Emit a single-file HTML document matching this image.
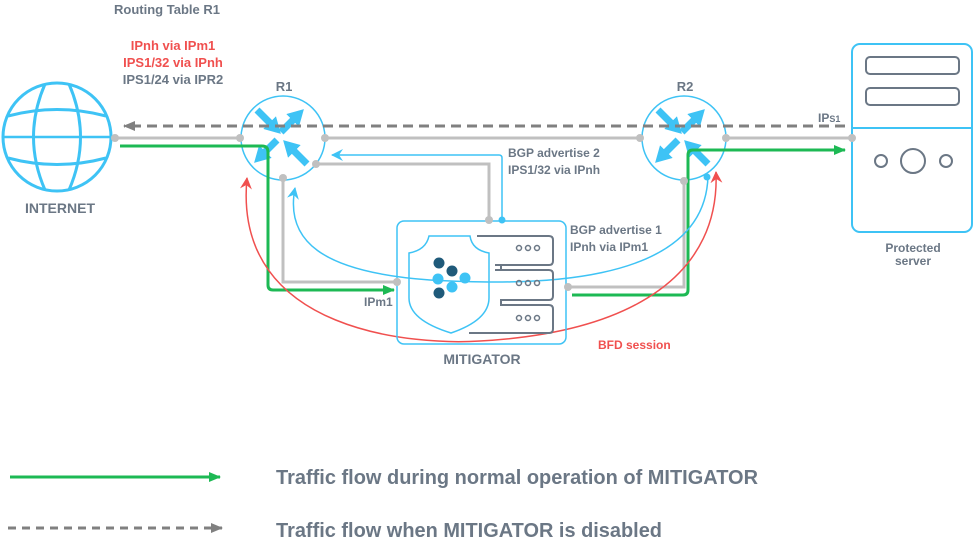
<!DOCTYPE html>
<html><head><meta charset="utf-8"><style>
html,body{margin:0;padding:0;background:#fff}
svg{display:block}
text{font-family:"Liberation Sans",sans-serif;font-weight:bold}
</style></head><body>
<svg width="974" height="550" viewBox="0 0 974 550" xmlns="http://www.w3.org/2000/svg">
<defs>
<marker id="ag" markerWidth="12" markerHeight="10" refX="11" refY="5" orient="auto" markerUnits="userSpaceOnUse"><path d="M0,0 L12,5 L0,10z" fill="#1db954"/></marker>
<marker id="agr" markerWidth="12" markerHeight="10" refX="11" refY="5" orient="auto" markerUnits="userSpaceOnUse"><path d="M0,0 L12,5 L0,10z" fill="#808080"/></marker>
<marker id="ab" markerWidth="12" markerHeight="12" refX="11" refY="6" orient="auto-start-reverse" markerUnits="userSpaceOnUse"><path d="M0,0 L12,6 L0,12 L4,6z" fill="#3ec3f5"/></marker>
<marker id="ar" markerWidth="12" markerHeight="12" refX="11" refY="6" orient="auto-start-reverse" markerUnits="userSpaceOnUse"><path d="M0,0 L12,6 L0,12 L4,6z" fill="#f0504f"/></marker>
<marker id="ah" markerWidth="16" markerHeight="18" refX="2" refY="9" orient="auto" markerUnits="userSpaceOnUse"><path d="M0,0 L16,9 L0,18z" fill="#3ec3f5"/></marker>
<g id="arr" stroke="#3ec3f5" stroke-width="7" fill="none">
<path d="M-26,-28 L-12,-14" marker-end="url(#ah)"/>
<path d="M-2,-6 L11,-19" marker-end="url(#ah)"/>
<path d="M-6,2 L-19,15" marker-end="url(#ah)"/>
<path d="M24,26 L10,12" marker-end="url(#ah)"/>
</g>
</defs>

<g fill="none" stroke="#3ec3f5" stroke-width="3">
<circle cx="57" cy="137" r="54"/>
<path d="M45,84 Q22,137 45,190"/><path d="M69,84 Q92,137 69,190"/>
<path d="M8,116 Q57,103 106,116"/><path d="M8,158 Q57,171 106,158"/>
<path d="M4,137 H110" stroke-width="2.5"/>
</g>
<text x="60" y="213" font-size="14" fill="#6b7785" text-anchor="middle">INTERNET</text>

<text x="167" y="14" font-size="13" fill="#6b7785" text-anchor="middle">Routing Table R1</text>
<text x="173" y="50" font-size="13" fill="#f0504f" text-anchor="middle">IPnh via IPm1</text>
<text x="173" y="67" font-size="13" fill="#f0504f" text-anchor="middle">IPS1/32 via IPnh</text>
<text x="173" y="84" font-size="13" fill="#6b7785" text-anchor="middle">IPS1/24 via IPR2</text>

<g fill="none" stroke="#c0c0c0" stroke-width="3">
<path d="M115,138 H240"/><path d="M325,138 H640"/><path d="M726,138 H852"/>
<path d="M283,178 V282 H397"/>
<path d="M316,164 H489 V220"/>
<path d="M568,287 H684 V178"/>
</g>

<g fill="#fff" stroke="#3ec3f5" stroke-width="1.5">
<circle cx="283" cy="138" r="42"/><circle cx="684" cy="138" r="42"/>
</g>
<text x="284" y="91" font-size="13" fill="#6b7785" text-anchor="middle">R1</text>
<text x="685" y="91" font-size="13" fill="#6b7785" text-anchor="middle">R2</text>
<use href="#arr" transform="translate(283,138)"/>
<use href="#arr" transform="translate(684,138)"/>

<path d="M845,126 H124" stroke="#808080" stroke-width="3" stroke-dasharray="10,6" fill="none" marker-end="url(#agr)"/>
<text x="818" y="122" font-size="12" fill="#6b7785">IP<tspan font-size="9">S1</tspan></text>

<g fill="none" stroke="#1db954" stroke-width="3">
<path d="M120,146 H262 Q268,146 268,152 V285 Q268,290 273,290 H394" marker-end="url(#ag)"/>
<path d="M572,295 H683 Q688,295 688,290 V155 Q688,150 693,150 H845" marker-end="url(#ag)"/>
</g>

<g fill="none" stroke="#3ec3f5" stroke-width="1.5">
<path d="M502,220 V158 Q502,155 499,155 H332" marker-end="url(#ab)"/>
<path d="M708,176 C705,290 520,285 430,280 C320,272 285,240 295,188" marker-end="url(#ab)"/>
</g>
<path d="M247,178 C232,335 420,345 480,341 C640,332 720,270 716,172" fill="none" stroke="#f0504f" stroke-width="1.5" marker-start="url(#ar)" marker-end="url(#ar)"/>

<text x="508" y="157" font-size="12" fill="#6b7785">BGP advertise 2</text>
<text x="508" y="174" font-size="12" fill="#6b7785">IPS1/32 via IPnh</text>
<text x="570" y="234" font-size="12" fill="#6b7785">BGP advertise 1</text>
<text x="570" y="251" font-size="12" fill="#6b7785">IPnh via IPm1</text>
<text x="364" y="306" font-size="12" fill="#6b7785">IPm1</text>
<text x="598" y="349" font-size="12" fill="#f0504f">BFD session</text>

<rect x="397" y="221" width="169" height="123" rx="7" fill="none" stroke="#3ec3f5" stroke-width="1.5"/>
<path d="M429,236 H470 Q472,250 489,253 V298 Q489,320 451,333 Q409,320 409,298 V253 Q426,250 429,236z" fill="none" stroke="#3ec3f5" stroke-width="1.5"/>
<g fill="none" stroke="#6b7785" stroke-width="2">
<path d="M477,236 H549 Q553,236 553,240 V261 Q553,265 549,265 H495"/>
<path d="M495,270 H549 Q553,270 553,274 V296 Q553,300 549,300 H500"/>
<path d="M500,305 H549 Q553,305 553,309 V329 Q553,333 549,333 H469"/>
<path d="M501,265 V270 M501,300 V305"/>
</g>
<g fill="none" stroke="#6b7785" stroke-width="1.5">
<circle cx="519" cy="248" r="2.5"/><circle cx="528" cy="248" r="2.5"/><circle cx="537" cy="248" r="2.5"/>
<circle cx="519" cy="283" r="2.5"/><circle cx="528" cy="283" r="2.5"/><circle cx="537" cy="283" r="2.5"/>
<circle cx="519" cy="318" r="2.5"/><circle cx="528" cy="318" r="2.5"/><circle cx="537" cy="318" r="2.5"/>
</g>
<g fill="#1f5a7a"><circle cx="439" cy="263" r="5.5"/><circle cx="452" cy="271" r="5.5"/><circle cx="439" cy="293" r="5.5"/></g>
<g fill="#3ec3f5"><circle cx="438" cy="279" r="5.5"/><circle cx="452" cy="287" r="5.5"/><circle cx="465" cy="278" r="5.5"/></g>
<text x="482" y="364" font-size="14" fill="#6b7785" text-anchor="middle">MITIGATOR</text>

<rect x="852" y="44" width="120" height="188" rx="8" fill="#fff" stroke="#3ec3f5" stroke-width="2"/>
<path d="M852,128 H972" stroke="#3ec3f5" stroke-width="2"/>
<g fill="none" stroke="#6b7785" stroke-width="2">
<rect x="866" y="57" width="93" height="17" rx="4"/><rect x="866" y="88" width="93" height="17" rx="4"/>
<circle cx="881" cy="161" r="6"/><circle cx="913" cy="161" r="12"/><circle cx="946" cy="161" r="6"/>
</g>
<text x="913" y="252" font-size="12" fill="#6b7785" text-anchor="middle">Protected</text>
<text x="913" y="265" font-size="12" fill="#6b7785" text-anchor="middle">server</text>

<g fill="#c0c0c0">
<circle cx="115" cy="138" r="4"/><circle cx="240" cy="138" r="4"/><circle cx="325" cy="138" r="4"/>
<circle cx="316" cy="164" r="4"/><circle cx="283" cy="178" r="4"/><circle cx="640" cy="138" r="4"/>
<circle cx="726" cy="138" r="4"/><circle cx="852" cy="138" r="4"/><circle cx="684" cy="181" r="4"/>
<circle cx="489" cy="220" r="4"/><circle cx="397" cy="282" r="4"/><circle cx="568" cy="287" r="4"/>
</g>
<g fill="#3ec3f5"><circle cx="502" cy="220" r="3.5"/><circle cx="707" cy="177" r="3.5"/></g>

<path d="M10,477 H220" stroke="#1db954" stroke-width="3" marker-end="url(#ag)"/>
<path d="M8,528 H222" stroke="#808080" stroke-width="3" stroke-dasharray="8,6" fill="none" marker-end="url(#agr)"/>
<text x="276" y="484" font-size="20" fill="#6b7785" textLength="482" lengthAdjust="spacingAndGlyphs">Traffic flow during normal operation of MITIGATOR</text>
<text x="276" y="537" font-size="20" fill="#6b7785" textLength="386" lengthAdjust="spacingAndGlyphs">Traffic flow when MITIGATOR is disabled</text>
</svg>
</body></html>
